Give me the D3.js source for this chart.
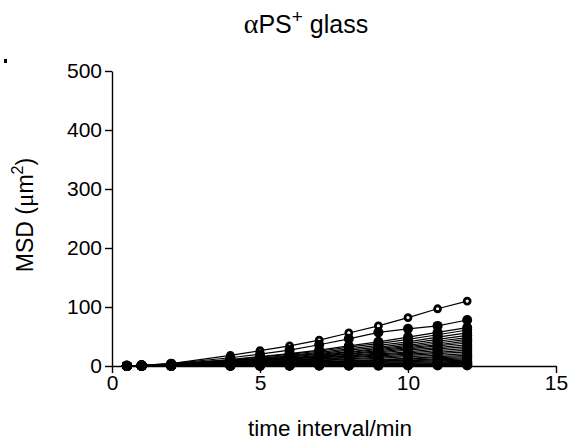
<!DOCTYPE html>
<html><head><meta charset="utf-8">
<script src="https://cdn.jsdelivr.net/npm/d3@7"></script>
<style>body{margin:0;background:#fff}svg{display:block}text{font-family:Arial,"Liberation Sans",Helvetica,sans-serif;fill:#000}</style>
</head><body>
<script>
const times = [0.5, 1, 2, 4, 5, 6, 7, 8, 9, 10, 11, 12];
const xTicks = [0, 5, 10, 15];
const yTicks = [0, 100, 200, 300, 400, 500];
// first series drawn with open markers
const hollowSeries = [0.3, 1, 4, 18, 26, 34, 44, 56, 68, 82, 97, 110];
const filledSeries = [
  [0.4, 1.2, 4, 14, 20, 27, 36, 46, 57, 63, 68, 78],
  [0.4, 1, 3.4, 11, 16, 21, 27, 34, 41, 49, 57, 65],
  [0.3, 1, 3.1, 10.5, 15, 20, 25, 32, 38, 45, 53, 61],
  [0.3, 0.8, 2.8, 9.5, 13, 18, 23, 29, 35, 41, 49, 56],
  [0.3, 0.8, 2.6, 9, 12.5, 17, 21, 27, 32, 38, 45, 52],
  [0.2, 0.7, 2.4, 8, 11.5, 15, 20, 24, 30, 35, 42, 48],
  [0.2, 0.7, 2.2, 7.6, 11, 14, 18, 23, 28, 33, 39, 45],
  [0.2, 0.6, 2.1, 7, 10, 13, 17, 21, 26, 31, 36, 42],
  [0.2, 0.6, 2, 6.6, 9.4, 12.5, 16, 20, 24, 29, 34, 39],
  [0.2, 0.5, 1.8, 6, 8.6, 11.5, 15, 18, 22, 27, 31, 36],
  [0.2, 0.5, 1.6, 5.6, 8, 10.5, 13.5, 17, 20, 24, 29, 33],
  [0.1, 0.5, 1.5, 5.1, 7.2, 9.6, 12, 15, 19, 22, 26, 30],
  [0.1, 0.4, 1.4, 4.6, 6.5, 8.6, 11, 14, 17, 20, 23, 27],
  [0.1, 0.4, 1.2, 4, 5.8, 7.7, 9.8, 12, 15, 18, 21, 24],
  [0.1, 0.3, 1, 3.6, 5, 6.7, 8.6, 11, 13, 16, 18, 21],
  [0.1, 0.3, 0.9, 3, 4.3, 5.8, 7.4, 9.2, 11, 13, 16, 18],
  [0.1, 0.2, 0.8, 2.7, 3.8, 5.1, 6.6, 8.2, 9.9, 12, 14, 16],
  [0.1, 0.2, 0.7, 2.4, 3.4, 4.5, 5.7, 7.1, 8.7, 10, 12, 14],
  [0.1, 0.2, 0.6, 2, 2.9, 3.8, 4.9, 6.1, 7.4, 8.9, 10.4, 12],
  [0, 0.2, 0.5, 1.7, 2.4, 3.2, 4.1, 5.1, 6.2, 7.4, 8.7, 10],
  [0, 0.1, 0.4, 1.4, 1.9, 2.6, 3.3, 4.1, 5, 5.9, 7, 8],
  [0, 0.1, 0.3, 1, 1.4, 1.9, 2.5, 3.1, 3.7, 4.4, 5.2, 6],
  [0, 0.1, 0.2, 0.8, 1.1, 1.4, 1.8, 2.3, 2.8, 3.3, 3.9, 4.5],
  [0, 0.1, 0.2, 0.5, 0.7, 1, 1.2, 1.5, 1.9, 2.2, 2.6, 3],
  [0, 0, 0.1, 0.3, 0.5, 0.6, 0.8, 1, 1.2, 1.5, 1.7, 2],
  [0, 0, 0.1, 0.2, 0.2, 0.3, 0.4, 0.5, 0.6, 0.7, 0.9, 1]
];

const W = 570, H = 447;
const svg = d3.select("body").append("svg").attr("width", W).attr("height", H);
const x = d3.scaleLinear().domain([0, 15]).range([112, 556]);
const y = d3.scaleLinear().domain([0, 500]).range([366, 71]);

// panel marker fragment at top-left
svg.append("rect").attr("x", 4).attr("y", 59).attr("width", 3).attr("height", 4).attr("fill", "#000");

// axes
const yAxis = svg.append("g").attr("transform", `translate(${x(0)},0)`)
  .call(d3.axisLeft(y).tickValues(yTicks).tickSize(7).tickPadding(3).tickSizeOuter(0));
const xAxis = svg.append("g").attr("transform", `translate(0,${y(0)})`)
  .call(d3.axisBottom(x).tickValues(xTicks).tickSize(7).tickPadding(2).tickSizeOuter(0));
[yAxis, xAxis].forEach(g => {
  g.selectAll("path.domain").attr("stroke", "#000").attr("stroke-width", 1.4);
  g.selectAll(".tick line").attr("stroke", "#000").attr("stroke-width", 1.4);
  g.selectAll(".tick text").attr("font-size", 21).attr("font-family", "Arial, 'Liberation Sans', sans-serif").attr("fill", "#000");
});

// data
const line = d3.line().x((d, i) => x(times[i])).y(d => y(d));
const all = filledSeries.concat([hollowSeries]);
svg.append("g").selectAll("path").data(all).join("path")
  .attr("d", d => line(d)).attr("fill", "none").attr("stroke", "#000").attr("stroke-width", 1.2);
svg.append("g").selectAll("circle").data(hollowSeries).join("circle")
  .attr("cx", (d, i) => x(times[i])).attr("cy", d => y(d)).attr("r", 3)
  .attr("fill", "#fff").attr("stroke", "#000").attr("stroke-width", 2.8);
filledSeries.forEach(s => {
  svg.append("g").selectAll("circle").data(s).join("circle")
    .attr("cx", (d, i) => x(times[i])).attr("cy", d => y(d)).attr("r", 5).attr("fill", "#000");
});

// title
const t = svg.append("text").attr("x", 306).attr("y", 33).attr("text-anchor", "middle").attr("font-size", 25);
t.append("tspan").attr("font-family", "'Liberation Serif','DejaVu Serif',serif").attr("font-size", 28).text("α");
t.append("tspan").text("PS");
t.append("tspan").attr("font-size", 19).attr("dy", -10).text("+");
t.append("tspan").attr("dy", 10).text(" glass");

// x label
svg.append("text").attr("x", 330).attr("y", 436).attr("text-anchor", "middle").attr("font-size", 22.5).text("time interval/min");

// y label
const yl = svg.append("text").attr("transform", "translate(33,215) rotate(-90)").attr("text-anchor", "middle").attr("font-size", 23);
yl.append("tspan").text("MSD (");
yl.append("tspan").attr("font-family", "'Liberation Serif','DejaVu Serif',serif").attr("font-size", 25).text("μ");
yl.append("tspan").text("m");
yl.append("tspan").attr("font-size", 16).attr("dy", -10).text("2");
yl.append("tspan").attr("dy", 10).text(")");
</script>
</body></html>
